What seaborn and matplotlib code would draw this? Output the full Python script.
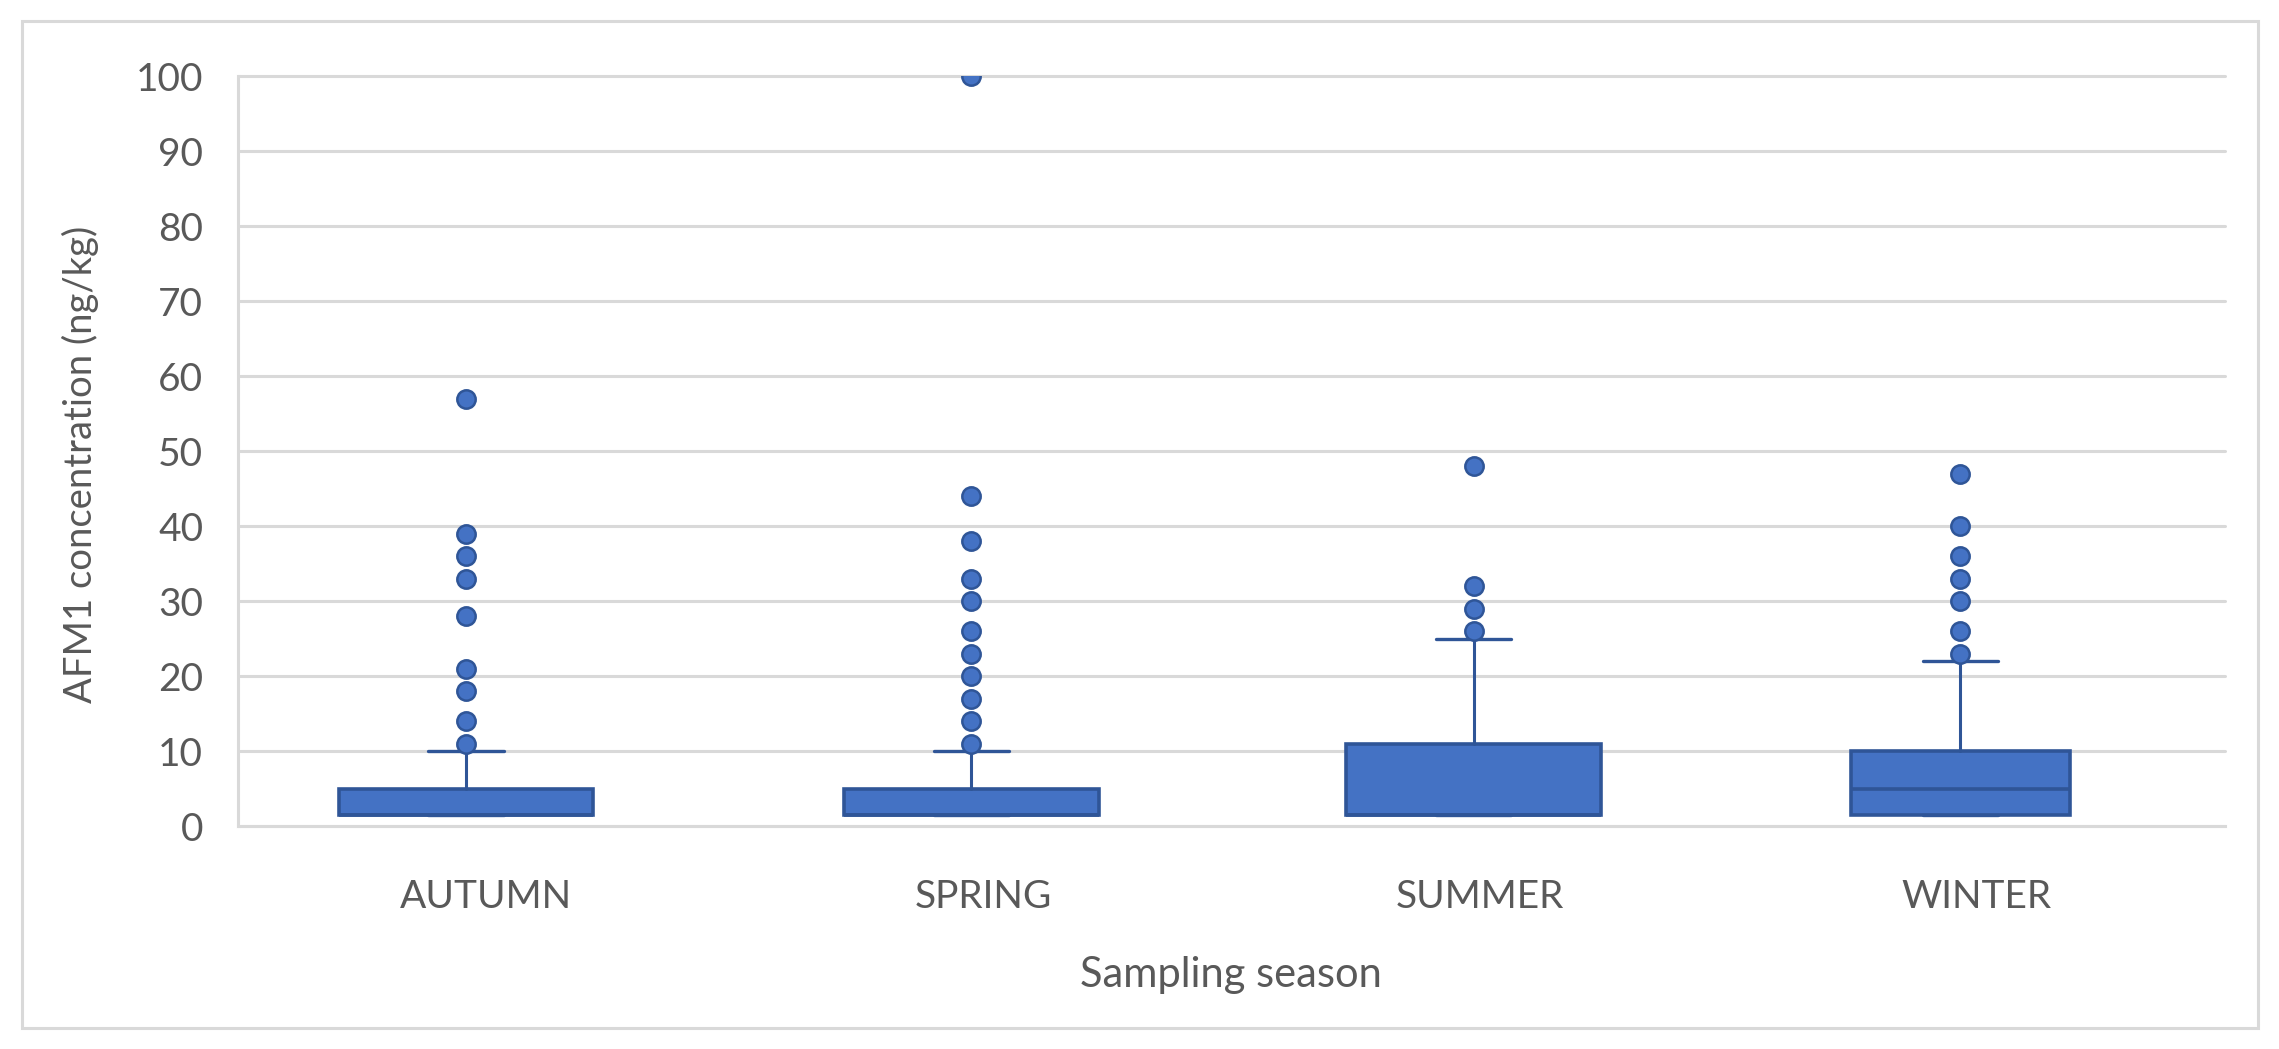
import pandas as pd
import matplotlib
matplotlib.use("Agg")
import matplotlib.pyplot as plt
import seaborn as sns
from matplotlib.patches import Rectangle

# values (ng/kg)
seasons = ["AUTUMN", "SPRING", "SUMMER", "WINTER"]
q1 = [1.5, 1.5, 1.5, 1.5]
median = [1.5, 1.5, 1.5, 5]
q3 = [5, 5, 11, 10]
whisker_low = [1.5, 1.5, 1.5, 1.5]
whisker_high = [10, 10, 25, 22]
autumn_out = [11, 14, 18, 21, 28, 33, 36, 39, 57]
spring_out = [11, 14, 17, 20, 23, 26, 30, 33, 38, 44, 100]
summer_out = [26, 29, 32, 48]
winter_out = [23, 26, 30, 33, 36, 40, 47]

# Excel puts the boxes slightly off the category centres
positions = [-0.041, 0.976, 1.988, 2.967]
widths = [0.513, 0.513, 0.513, 0.441]

BLUE = "#4472C4"
EDGE = "#2F5597"
GRID = "#D9D9D9"
TEXT = "#595959"

sns.set_theme(style="white")
plt.rcParams["font.family"] = ["Lato", "DejaVu Sans"]

fig = plt.figure(figsize=(22.79, 10.49), dpi=100)
ax = fig.add_axes([0.10443, 0.21258, 0.87187, 0.71497])

stats = []
for s, a, m, b, lo, hi in zip(seasons, q1, median, q3, whisker_low, whisker_high):
    stats.append(dict(label=s, q1=a, med=m, q3=b, whislo=lo, whishi=hi, fliers=[]))

ax.bxp(stats, positions=positions, widths=widths, capwidths=0.151,
       patch_artist=True, showfliers=False,
       boxprops=dict(facecolor=BLUE, edgecolor=EDGE, linewidth=2.6),
       medianprops=dict(color=EDGE, linewidth=2.6),
       whiskerprops=dict(color=EDGE, linewidth=2.2),
       capprops=dict(color=EDGE, linewidth=2.4))

out_lists = [autumn_out, spring_out, summer_out, winter_out]
out = pd.DataFrame({
    "pos": [p for p, vals in zip(positions, out_lists) for _ in vals],
    "value": [v for vals in out_lists for v in vals],
})
sns.scatterplot(data=out, x="pos", y="value", s=175, color=BLUE,
                edgecolor=EDGE, linewidth=1.8, zorder=5, ax=ax)

ax.set_xlim(-0.5, 3.5)
ax.set_ylim(0, 100)
ax.set_xticks(range(4))
ax.set_xticklabels(seasons)
ax.set_yticks(range(0, 101, 10))
ax.set_xlabel(""); ax.set_ylabel("")

ax.yaxis.grid(True, color=GRID, linewidth=2.2)
ax.set_axisbelow(True)
for gl in ax.get_ygridlines():
    gl.set_clip_on(False)
for side in ["top", "right"]:
    ax.spines[side].set_visible(False)
for side in ["left", "bottom"]:
    ax.spines[side].set_color(GRID)
    ax.spines[side].set_linewidth(2.2)

ax.tick_params(axis="y", length=0, labelsize=28, labelcolor=TEXT, pad=25)
ax.tick_params(axis="x", length=0, labelsize=28, labelcolor=TEXT, pad=38)

fig.text(1231 / 2279, (1049 - 987) / 1049, "Sampling season", ha="center",
         va="baseline", fontsize=30, color=TEXT)
fig.text(80 / 2279, 1 - 464 / 1049, "AFM1 concentration (ng/kg)", ha="center",
         va="center", rotation=90, fontsize=27.5, color=TEXT)

fig.patches.append(Rectangle((22 / 2279, 21 / 1049), 2236 / 2279, 1007 / 1049,
                             transform=fig.transFigure, fill=False,
                             edgecolor=GRID, linewidth=2.2))

fig.savefig("out.png", dpi=100)
